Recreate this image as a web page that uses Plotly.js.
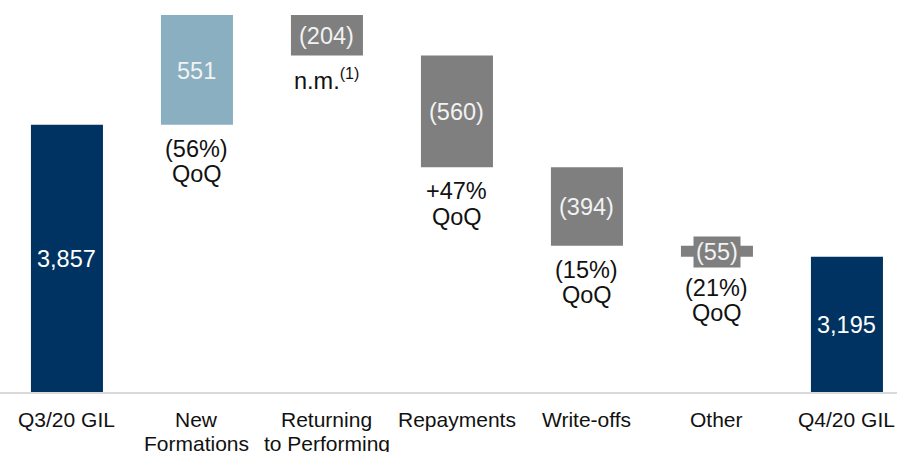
<!DOCTYPE html>
<html>
<head>
<meta charset="utf-8">
<script src="https://cdn.plot.ly/plotly-3.0.1.min.js"></script>
<style>html,body{margin:0;padding:0;background:#fff;}#chart{width:897px;height:452px;}</style>
</head>
<body>
<div id="chart"></div>
<script>
// ---- data ----
const categories = ["Q3/20 GIL", "New Formations", "Returning to Performing", "Repayments", "Write-offs", "Other", "Q4/20 GIL"];
const tickLines = [["Q3/20 GIL"], ["New", "Formations"], ["Returning", "to Performing"], ["Repayments"], ["Write-offs"], ["Other"], ["Q4/20 GIL"]];
const values = [3857, 551, -204, -560, -394, -55, 3195];
const measures = ["absolute", "relative", "relative", "relative", "relative", "relative", "total"];
const valueLabels = ["3,857", "551", "(204)", "(560)", "(394)", "(55)", "3,195"];
const qoqLines = [[], ["(56%)", "QoQ"], ["n.m.<sup><span style='font-size:16px'>(1)</span></sup>"], ["+47%", "QoQ"], ["(15%)", "QoQ"], ["(21%)", "QoQ"], []];

// ---- styling ----
const FONT = "Liberation Sans, Arial, sans-serif";
const NAVY = "#003361", LIGHT = "#8aafc1", GREY = "#7f7f7f";
const yRange = [2516, 4483];
const xRange = [-0.515, 6.385];
const plotH = 392;
const pxPerUnit = plotH / (yRange[1] - yRange[0]);

const xs = categories.map((c, i) => i);

// cumulative extents
let run = 0;
const lows = [], highs = [];
values.forEach((v, i) => {
  if (measures[i] === "absolute") { run = v; lows.push(yRange[0]); highs.push(v); }
  else if (measures[i] === "total") { lows.push(yRange[0]); highs.push(run); }
  else { const s = run; run += v; lows.push(Math.min(s, run)); highs.push(Math.max(s, run)); }
});

const annotations = [];
values.forEach((v, i) => {
  const barPx = (highs[i] - lows[i]) * pxPerUnit;
  const small = barPx < 30;
  const isTotal = measures[i] !== "relative";
  annotations.push({
    x: xs[i], y: (highs[i] + lows[i]) / 2, xref: "x", yref: "y",
    text: valueLabels[i], showarrow: false, yanchor: "middle", yshift: -1,
    font: {family: FONT, size: 23.5, color: isTotal ? "#ffffff" : "#f2f2f2"},
    bgcolor: small ? GREY : "rgba(0,0,0,0)", borderpad: small ? 2 : 0
  });
  const extra = small ? 7 : 0;
  qoqLines[i].forEach((t, j) => {
    annotations.push({
      x: xs[i], y: lows[i], xref: "x", yref: "y",
      text: t, showarrow: false, yanchor: "middle",
      yshift: -(24 + extra + j * 25.5),
      font: {family: FONT, size: 23.5, color: "#111111"}
    });
  });
});
tickLines.forEach((lines, i) => {
  lines.forEach((t, j) => {
    annotations.push({
      x: xs[i], y: 0, xref: "x", yref: "paper", text: t, showarrow: false,
      yanchor: "middle", yshift: -(27 + j * 24),
      font: {family: FONT, size: 21, color: "#111111"}
    });
  });
});

const trace = {
  type: "waterfall", x: xs, y: values, measure: measures,
  width: 0.554, textinfo: "none", hoverinfo: "skip",
  connector: {visible: false},
  increasing: {marker: {color: LIGHT}},
  decreasing: {marker: {color: GREY}},
  totals: {marker: {color: NAVY}}
};

const layout = {
  width: 897, height: 452,
  margin: {l: 0, r: 0, t: 0, b: 60, pad: 0},
  paper_bgcolor: "#ffffff", plot_bgcolor: "#ffffff",
  showlegend: false,
  xaxis: {range: xRange, showgrid: false, zeroline: false, showticklabels: false,
          ticks: "", showline: true, linecolor: "#d9d9d9", linewidth: 2, fixedrange: true},
  yaxis: {range: yRange, showgrid: false, zeroline: false, showticklabels: false,
          ticks: "", showline: false, fixedrange: true},
  annotations: annotations,
  font: {family: FONT}
};

Plotly.newPlot("chart", [trace], layout, {displayModeBar: false, staticPlot: true});
</script>
</body>
</html>
